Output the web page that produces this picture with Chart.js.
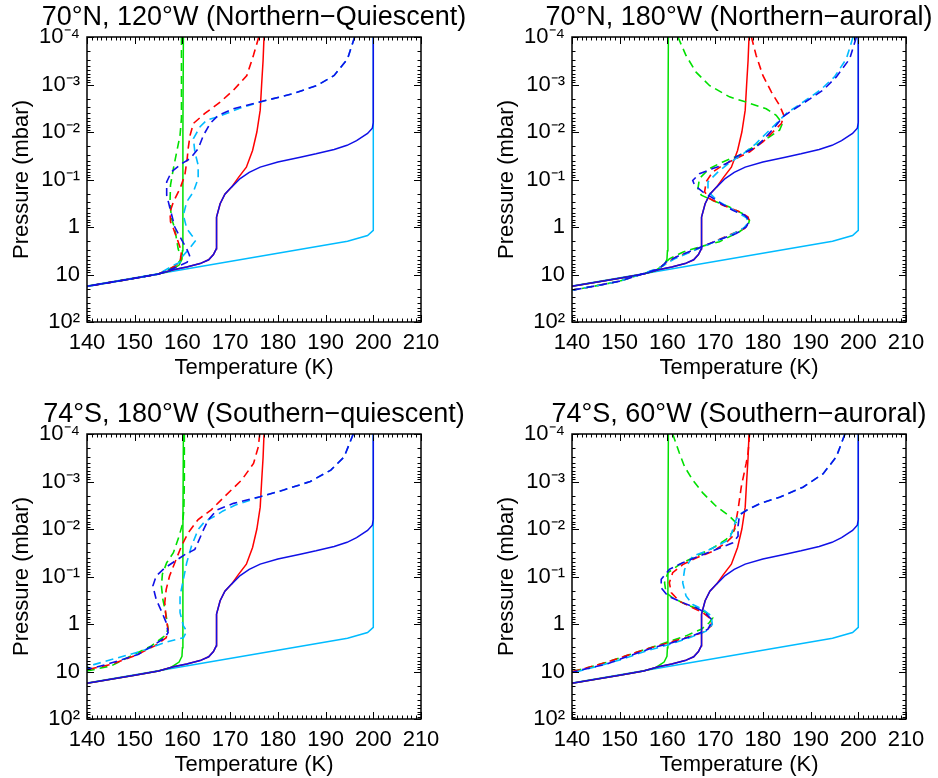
<!DOCTYPE html>
<html>
<head>
<meta charset="utf-8">
<script src="https://cdn.jsdelivr.net/npm/chart.js@4.4.1/dist/chart.umd.min.js"></script>
<style>
  body { margin: 0; background: #fff; }
  #wrap { position: relative; width: 938px; height: 778px; }
  canvas { position: absolute; }
</style>
</head>
<body>
<div id="wrap">
  <canvas id="c1" width="469" height="381" style="left:0;top:0"></canvas>
  <canvas id="c2" width="453" height="381" style="left:485px;top:0"></canvas>
  <canvas id="c3" width="469" height="381" style="left:0;top:397px"></canvas>
  <canvas id="c4" width="453" height="381" style="left:485px;top:397px"></canvas>
</div>
<script>
// every point: [temperature (K), log10 of pressure (mbar)]
const panelTitles = [
  '70°N, 120°W (Northern−Quiescent)',
  '70°N, 180°W (Northern−auroral)',
  '74°S, 180°W (Southern−quiescent)',
  '74°S, 60°W (Southern−auroral)'
];
const tempTicks = [140, 150, 160, 170, 180, 190, 200, 210];
const pressureTicks = [1e-4, 1e-3, 1e-2, 1e-1, 1, 10, 100];
const pressureLabels = ['10⁻⁴', '10⁻³', '10⁻²', '10⁻¹', '1', '10', '10²'];

// solid profiles (same in every panel)
const solidCyan = [[140,1.24],[194.6,0.30],[198.8,0.18],[200,0.07],[200,-4]];
const solidBlue = [[140,1.25],[150,1.08],[155,0.99],[158.1,0.9],[160.9,0.84],[163.7,0.77],[165.5,0.69],[166.5,0.58],[167.1,0.46],
  [167.1,0.1],[167.2,-0.21],[167.9,-0.49],[168.9,-0.69],[170.3,-0.84],[172.1,-1.02],[174,-1.15],[176.3,-1.26],[180,-1.37],
  [184.7,-1.47],[188,-1.54],[191.8,-1.63],[194.5,-1.72],[196.5,-1.82],[198.8,-1.97],[199.8,-2.08],[200,-2.2],[200,-4]];
const solidRed = [[140,1.25],[150,1.08],[155,0.99],[158.1,0.9],[160.9,0.84],[163.7,0.77],[165.5,0.69],[166.5,0.58],[167.1,0.46],
  [167.1,0.1],[167.2,-0.21],[167.9,-0.49],[168.9,-0.69],[170.3,-0.84],[171.8,-1.05],[173.4,-1.26],[174.7,-1.61],[175.6,-2.0],
  [176.3,-2.46],[176.6,-3.0],[176.9,-3.5],[177.1,-4]];
const solidGreen = [[140,1.25],[150,1.08],[155,0.99],[157.5,0.92],[159.3,0.8],[159.9,0.68],[160,0.5],[160.1,-2],[160.2,-4]];

// dashed profiles, 70N 120W
const nqRedDash = [[176.0,-4],[174.9,-3.62],[173.5,-3.19],[170.7,-2.88],[167.9,-2.63],[164.7,-2.39],[162.3,-2.18],[161.6,-1.93],
  [161.2,-1.65],[161.0,-1.44],[160.5,-1.09],[159.5,-0.81],[158.1,-0.53],[157.4,-0.32],[157.5,-0.11],[158.1,0.03],[159.1,0.31],
  [159.8,0.52],[159.5,0.74],[158.1,0.84],[155,0.99],[150,1.08],[140,1.25]];
const nqBlueDash = [[196.1,-4],[194.6,-3.54],[191.8,-3.19],[188.2,-2.98],[183.3,-2.81],[177.7,-2.67],[170.7,-2.49],[167.5,-2.35],
  [165.8,-2.18],[164.4,-1.93],[163.3,-1.65],[161.6,-1.44],[159.8,-1.33],[157.7,-1.16],[156.7,-0.95],[156.7,-0.67],[157.4,-0.39],
  [158.4,0.0],[159.5,0.21],[160.9,0.46],[161.5,0.6],[161.0,0.74],[159.5,0.81],[155,0.99],[150,1.08],[140,1.25]];
const nqCyanDash = [[196.1,-4],[194.6,-3.54],[191.8,-3.19],[188.2,-2.98],[183.3,-2.81],[177.7,-2.67],[172,-2.5],[169.5,-2.4],
  [167.5,-2.32],[165.1,-2.25],[163.7,-2.11],[162.3,-1.86],[162.6,-1.58],[163.3,-1.3],[163.3,-1.02],[162.3,-0.74],[160.9,-0.53],
  [160.2,-0.25],[160.9,0.03],[161.9,0.17],[162.8,0.28],[161.5,0.45],[160,0.62],[159.5,0.74],[158.1,0.81],[155,0.99],[150,1.08],[140,1.25]];
const nqGreenDash = [[159.8,-4],[159.8,-3],[159.8,-2.3],[159.5,-1.93],[158.8,-1.58],[158.1,-1.23],[157.5,-0.88],[157.4,-0.53],
  [157.7,-0.18],[158.4,0.03],[159.1,0.46],[159.8,0.67],[158.8,0.8],[157.4,0.88],[155,0.99],[150,1.08],[140,1.25]];

// dashed profiles, 70N 180W
const naRedDash = [[177.6,-4],[178.6,-3.61],[180.0,-3.19],[181.8,-2.84],[183.5,-2.56],[184.4,-2.35],[183.9,-2.18],[182.1,-2.0],
  [180.0,-1.79],[177.2,-1.58],[174.4,-1.44],[171.6,-1.3],[169.5,-1.16],[168.1,-0.95],[167.8,-0.74],[168.8,-0.6],[171.6,-0.46],
  [175.1,-0.32],[176.9,-0.21],[177.2,-0.11],[176.2,0.03],[173.0,0.17],[168.8,0.35],[164.6,0.53],[161.8,0.63],[159.7,0.77],
  [158,0.88],[155,0.98],[150,1.14],[145,1.24],[140,1.33]];
const naBlueDash = [[199.6,-4],[198.2,-3.54],[195.4,-3.16],[192.6,-2.88],[188.4,-2.6],[185.6,-2.42],[184.2,-2.32],[182.8,-2.14],
  [180.7,-1.9],[178.6,-1.68],[176.5,-1.58],[174.4,-1.48],[172.3,-1.33],[169.5,-1.23],[166.7,-1.12],[165.3,-0.98],[165.7,-0.88],
  [167.4,-0.74],[169.2,-0.63],[171.3,-0.49],[173.7,-0.35],[176.2,-0.25],[177.2,-0.14],[176.5,0.0],[174.4,0.14],[171.6,0.24],
  [168.8,0.35],[165.3,0.49],[162.5,0.6],[159.7,0.74],[158.3,0.88],[155,0.98],[150,1.14],[145,1.24],[140,1.33]];
const naCyanDash = [[198.9,-4],[197.5,-3.54],[195,-3.16],[192,-2.88],[188,-2.6],[185,-2.4],[183,-2.2],[181,-2.0],[178.5,-1.75],
  [176,-1.55],[173,-1.35],[170.5,-1.15],[168.5,-0.95],[168.5,-0.75],[170.5,-0.55],[174,-0.35],[176.5,-0.2],[177,-0.1],[176,0.02],
  [173,0.18],[169,0.35],[165,0.52],[161.5,0.67],[158.5,0.85],[155,0.98],[150,1.14],[145,1.24],[140,1.33]];
const naGreenDash = [[162.2,-4],[163.9,-3.61],[166.0,-3.26],[168.8,-2.98],[173.0,-2.74],[176.5,-2.63],[180.7,-2.49],[182.8,-2.35],
  [184.1,-2.18],[183.5,-2.04],[181.4,-1.9],[178.6,-1.72],[175.1,-1.51],[171.6,-1.37],[168.8,-1.23],[166.7,-1.02],[166.4,-0.81],
  [167.1,-0.67],[169.5,-0.56],[173.0,-0.42],[175.8,-0.28],[177.2,-0.14],[176.9,-0.04],[175.1,0.1],[170.9,0.31],[166.7,0.42],
  [163.2,0.53],[160.4,0.67],[159.0,0.81],[157.6,0.92],[155,0.98],[150,1.14],[145,1.24],[140,1.33]];

// dashed profiles, 74S 180W
const sqRedDash = [[176.2,-4],[175.9,-3.73],[174.9,-3.38],[172.4,-3.03],[168.9,-2.69],[166.1,-2.41],[163.3,-2.2],[161.2,-1.92],
  [159.8,-1.64],[158.4,-1.29],[157.3,-1.01],[156.6,-0.73],[156.3,-0.45],[156.6,-0.1],[157.0,0.11],[156.6,0.29],[154.2,0.46],
  [150.0,0.67],[145.1,0.85],[140,0.96]];
const sqBlueDash = [[195.8,-4],[193.9,-3.52],[191.1,-3.24],[186.8,-3.0],[181.2,-2.82],[176.3,-2.68],[170.7,-2.54],[167.2,-2.4],
  [165.4,-2.19],[164.4,-1.98],[162.6,-1.57],[160.5,-1.46],[158.4,-1.32],[156.3,-1.18],[154.5,-1.01],[153.8,-0.8],[154.5,-0.52],
  [155.6,-0.27],[156.6,-0.03],[157.0,0.18],[156.3,0.29],[154.2,0.43],[150.7,0.64],[146.5,0.78],[141.6,0.92],[140,0.95]];
const sqCyanDash = [[195.8,-4],[193.9,-3.52],[191.1,-3.24],[186.8,-3.0],[181.2,-2.82],[176.3,-2.68],[171,-2.5],[168.5,-2.38],
  [166.8,-2.27],[164.7,-2.16],[163.3,-1.99],[161.9,-1.64],[160.9,-1.29],[160.2,-0.94],[159.5,-0.59],[159.5,-0.24],[160.2,0.04],
  [160.9,0.15],[160.2,0.29],[156.3,0.39],[151.4,0.57],[146.5,0.71],[141.6,0.85],[140,0.9]];
const sqGreenDash = [[160.4,-4],[160.4,-3],[160.3,-2.4],[160.0,-2.1],[159.3,-1.85],[158.1,-1.5],[156.7,-1.29],[155.8,-1.05],
  [155.6,-0.8],[155.9,-0.52],[156.6,-0.17],[157.0,0.11],[156.3,0.25],[153.5,0.46],[149.3,0.67],[145.1,0.88],[140,0.99]];

// dashed profiles, 74S 60W
const saRedDash = [[177.2,-4],[176.9,-3.6],[176.5,-3.38],[175.5,-2.9],[174.8,-2.41],[174.3,-2.13],[173.7,-1.85],[172.3,-1.71],
  [169.5,-1.53],[166.0,-1.39],[163.2,-1.25],[161.1,-1.08],[160.4,-0.87],[160.8,-0.66],[162.5,-0.48],[165.3,-0.34],[167.4,-0.24],
  [169.2,-0.1],[169.2,0.04],[167.4,0.18],[164.2,0.28],[160,0.4],[155.5,0.53],[151.3,0.67],[147.1,0.81],[142.2,0.95],[140,1.0]];
const saBlueDash = [[197.2,-4],[195.4,-3.52],[192.6,-3.16],[188.4,-2.88],[183.5,-2.67],[179.3,-2.53],[176.5,-2.39],[175.1,-2.29],
  [174.8,-2.06],[174.8,-1.85],[173.7,-1.71],[170.2,-1.57],[166.7,-1.43],[163.2,-1.29],[160.4,-1.15],[158.7,-0.94],[158.7,-0.76],
  [160.1,-0.59],[163.2,-0.45],[166.0,-0.34],[167.8,-0.25],[169.2,-0.1],[169.2,-0.03],[168.5,0.11],[165.3,0.25],[161.1,0.39],
  [156.9,0.5],[152.0,0.67],[147.1,0.85],[142.2,0.96],[140,1.02]];
const saCyanDash = [[197.2,-4],[195.4,-3.52],[192.6,-3.16],[188.4,-2.88],[183.5,-2.67],[179.3,-2.53],[176.5,-2.39],[175,-2.3],
  [174.4,-2.2],[173.0,-1.78],[170.9,-1.67],[168.1,-1.53],[165.3,-1.43],[163.6,-1.15],[163.2,-0.87],[163.9,-0.59],[165.3,-0.41],
  [167.4,-0.31],[169.2,-0.17],[169.4,0.01],[168.1,0.15],[164.6,0.29],[160.4,0.43],[155.5,0.57],[150.6,0.74],[145.7,0.88],
  [140.8,1.01],[140,1.03]];
const saGreenDash = [[161.1,-4],[162.5,-3.6],[163.6,-3.31],[165.3,-3.03],[167.4,-2.76],[170.2,-2.48],[173.0,-2.27],[174.4,-2.13],
  [174.1,-1.99],[172.3,-1.78],[169.5,-1.6],[166.0,-1.43],[162.5,-1.25],[160.1,-1.08],[159.4,-0.87],[159.7,-0.66],[161.1,-0.55],
  [163.9,-0.41],[166.7,-0.31],[168.8,-0.2],[169.5,-0.13],[168.8,-0.03],[167.1,0.11],[163.9,0.25],[159.7,0.39],[155.5,0.53],
  [151.3,0.67],[147.1,0.81],[142.2,0.95],[140,1.0]];

const RED = '#ff0000', GREEN = '#00e000', BLUE = '#1010e6', CYAN = '#00bbff';
const FONT = '"Liberation Sans", Arial, Helvetica, sans-serif';
Chart.defaults.font.family = FONT;
Chart.defaults.color = '#000';

const toPts = (arr) => arr.map(([t, lp]) => ({ x: t, y: Math.pow(10, lp) }));

// box, inward tick marks (IDL style) and panel title
const idlFrame = {
  id: 'idlFrame',
  afterDatasetsDraw(chart, args, opts) {
    const { ctx, chartArea: a, scales: { x, y } } = chart;
    ctx.save();
    ctx.strokeStyle = '#000';
    ctx.lineWidth = 1;
    ctx.beginPath();
    for (let t = 140; t <= 210; t++) {
      const px = Math.round(x.getPixelForValue(t)) + 0.5;
      const len = t % 10 === 0 ? 7 : 3.5;
      ctx.moveTo(px, a.bottom); ctx.lineTo(px, a.bottom - len);
      ctx.moveTo(px, a.top); ctx.lineTo(px, a.top + len);
    }
    pressureTicks.forEach((d, i) => {
      for (let k = 1; k <= 9; k++) {
        if (i === pressureTicks.length - 1 && k > 1) break;
        const py = Math.round(y.getPixelForValue(d * k)) + 0.5;
        const len = k === 1 ? 7 : 3.5;
        ctx.moveTo(a.left, py); ctx.lineTo(a.left + len, py);
        ctx.moveTo(a.right, py); ctx.lineTo(a.right - len, py);
      }
    });
    ctx.stroke();
    ctx.lineWidth = 1.5;
    ctx.strokeRect(a.left, a.top, a.width, a.height);
    ctx.fillStyle = '#000';
    ctx.font = '27px ' + FONT;
    ctx.textAlign = 'center';
    ctx.textBaseline = 'middle';
    ctx.fillText(opts.text, (a.left + a.right) / 2, 18);
    ctx.restore();
  }
};

const makePanel = (id, title, dashes) => {
  const canvas = document.getElementById(id);
  const solidSet = (data, color) => ({ data: toPts(data), borderColor: color, borderWidth: 1.5 });
  const dashSet = (data, color) => ({ data: toPts(data), borderColor: color, borderWidth: 1.6, borderDash: [8, 5] });
  return new Chart(canvas.getContext('2d'), {
    type: 'scatter',
    data: {
      datasets: [
        solidSet(solidBlue, BLUE),
        dashSet(dashes.blue, BLUE),
        dashSet(dashes.cyan, CYAN),
        dashSet(dashes.red, RED),
        dashSet(dashes.green, GREEN),
        solidSet(solidRed, RED),
        solidSet(solidGreen, GREEN),
        solidSet(solidCyan, CYAN)
      ]
    },
    options: {
      responsive: false,
      animation: false,
      showLine: true,
      elements: { point: { radius: 0 }, line: { tension: 0, fill: false } },
      layout: { padding: { left: 0, top: 37, bottom: 0, right: canvas.width - 421 } },
      plugins: { legend: { display: false }, tooltip: { enabled: false }, idlFrame: { text: title } },
      scales: {
        x: {
          type: 'linear', min: 140, max: 210,
          grid: { display: false, drawTicks: false }, border: { display: false },
          afterBuildTicks: (s) => { s.ticks = tempTicks.map(v => ({ value: v })); },
          afterFit: (s) => { s.height = 59; },
          ticks: { font: { size: 22 }, padding: 8, maxRotation: 0, autoSkip: false },
          title: { display: true, text: 'Temperature (K)', font: { size: 22 }, padding: { top: 0, bottom: 0 } }
        },
        y: {
          type: 'logarithmic', min: 1e-4, max: 100, reverse: true,
          grid: { display: false, drawTicks: false }, border: { display: false },
          afterBuildTicks: (s) => { s.ticks = pressureTicks.map(v => ({ value: v })); },
          afterFit: (s) => { s.width = 87; },
          ticks: {
            font: { size: 22 }, padding: 7, autoSkip: false,
            callback: (v) => pressureLabels[pressureTicks.findIndex(p => Math.abs(Math.log10(p) - Math.log10(v)) < 1e-6)]
          },
          title: { display: true, text: 'Pressure (mbar)', font: { size: 22 }, padding: { top: 9, bottom: 0 } }
        }
      }
    },
    plugins: [idlFrame]
  });
};

makePanel('c1', panelTitles[0], { red: nqRedDash, blue: nqBlueDash, cyan: nqCyanDash, green: nqGreenDash });
makePanel('c2', panelTitles[1], { red: naRedDash, blue: naBlueDash, cyan: naCyanDash, green: naGreenDash });
makePanel('c3', panelTitles[2], { red: sqRedDash, blue: sqBlueDash, cyan: sqCyanDash, green: sqGreenDash });
makePanel('c4', panelTitles[3], { red: saRedDash, blue: saBlueDash, cyan: saCyanDash, green: saGreenDash });
</script>
</body>
</html>
